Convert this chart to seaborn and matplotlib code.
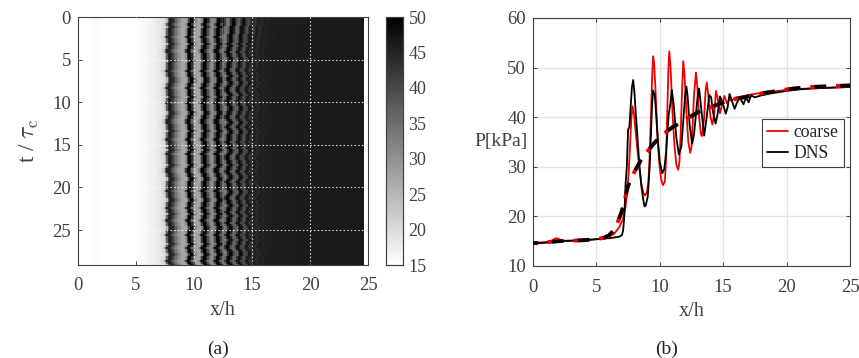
# IMPORT LIBRARIES

import numpy as np
import pandas as pd
import matplotlib
matplotlib.use("Agg")
import matplotlib.pyplot as plt
import seaborn as sns


# DATA

# (a) pressure along x/h in cells of 0.125
p_left = [15.0, 15.0, 15.0, 15.0, 15.0, 15.0, 15.0, 15.0, 15.2, 15.3, 15.4, 15.5, 15.5, 15.4, 15.3, 15.2,
          15.1, 15.0, 15.0, 15.0, 15.0, 15.0, 15.0, 15.0, 15.0, 15.0, 15.0, 15.0, 15.0, 15.0, 15.0, 15.0,
          15.0, 15.0, 15.0, 15.0, 15.0, 15.0, 15.1, 15.1, 15.2, 15.3, 15.4, 15.5, 15.6, 15.8, 16.0, 16.2,
          16.4, 16.6, 16.8, 17.0, 17.2, 17.5, 17.8, 18.2]
p_mid = [18.5, 19.0, 19.8, 21.5, 25.0, 37.0, 45.0, 46.0,
         44.0, 41.0, 37.0, 34.0, 32.0, 30.0, 28.5, 27.5,
         27.0, 27.5, 31.0, 42.0, 50.0, 49.0, 43.0, 36.0,
         31.0, 28.0, 27.0, 27.5, 32.0, 42.0, 50.0, 49.5,
         45.0, 39.0, 35.0, 31.5, 30.5, 33.0, 40.0, 48.0,
         50.0, 47.0, 41.0, 35.0, 33.0, 36.0, 43.0, 49.0,
         49.0, 45.0, 39.0, 36.0, 37.0, 42.0, 47.0, 48.0,
         45.0, 41.0, 39.0, 42.0, 46.0, 46.5, 44.0, 42.5,
         44.5, 46.0, 45.0, 44.0, 45.0, 46.0, 45.5, 45.0,
         45.5, 46.0, 45.5, 45.7, 46.0, 45.7, 46.0, 45.8]
p_right = [46.0, 45.8, 46.1, 45.9, 46.2, 46.0, 46.1, 45.9, 46.2, 46.0, 46.2, 46.0, 46.2, 46.1, 46.0, 46.3,
           46.1, 46.2, 46.0, 46.2, 46.1, 46.3, 46.1, 46.2, 46.1, 46.3, 46.2, 46.3, 46.1, 46.3, 46.2, 46.3,
           46.2, 46.4, 46.2, 46.3, 46.3, 46.4, 46.2, 46.4, 46.3, 46.4, 46.3, 46.4, 46.3, 46.5, 46.3, 46.4,
           46.4, 46.5, 46.4, 46.5, 46.4, 46.5, 46.5, 46.4, 46.5, 46.5, 46.6, 46.5, 46.6]
p_blank = [np.nan, np.nan, np.nan]

# wobble of the stripes per time row (0.25 tau_c), in cells
shift_near = [1, 1, 1, 0, 1, 0, 0, 0, 0, -1, 0, 0, 1, 0, 0, -1, -1, 0, 0, 0, 1, 0, 0, 0, 0, -1, 0, 0, 1, 1,
              1, 0, 0, -1, 0, 0, 0, 1, 0, 0, -1, 0, 0, 0, 1, 1, 0, 0, -1, -1, 0, 0, 0, 1, 0, 0, 0, -1, 0, 0,
              1, 0, 1, 0, -1, 0, 0, 0, 0, 1, 0, -1, -1, 0, 0, 1, 1, 0, 0, 0, 0, -1, 0, 0, 0, 1, 1, 0, 0, -1,
              0, 0, 1, 0, 0, -1, 0, 0, 1, 1, 0, 0, -1, 0, 0, 0, 1, 0, -1, 0, 0, 1, 0, 0, -1, 0, 1]
shift_far = [3, 3, 3, 3, 2, 2, 2, 2, 1, 1, 1, 1, 0, 1, 0, 0, -1, 0, 0, 1, 1, 0, 0, 0, -1, -1, 0, 1, 0, 0,
             1, 1, 0, -1, -1, 0, 1, 0, 0, -1, 0, 0, 1, 1, 0, 0, -1, -1, 0, 1, 0, -1, 0, 1, 1, 0, 0, 0, -1, 0,
             1, 0, 1, 1, 0, -1, -1, 0, 0, 1, 0, 0, -1, 0, 1, 1, 0, -1, 0, 0, 0, 1, 1, 0, -1, -1, 0, 0, 1, 0,
             0, -1, 0, 1, 0, 0, -1, 0, 1, 1, 0, 0, -1, 0, 1, 0, 0, -1, -1, 0, 1, 1, 0, 0, -1, 0, 1]

# (b) instantaneous profiles
x_coarse = [0, 1, 1.4, 1.6, 1.8, 2.0, 2.3, 3, 4, 5, 5.6, 6, 6.4, 6.8, 7.1, 7.3, 7.45, 7.55, 7.65, 7.75, 7.85, 7.95, 8.1,
            8.25, 8.4, 8.55, 8.7, 8.85, 9.0, 9.1, 9.2, 9.3, 9.4, 9.47, 9.55, 9.65, 9.8, 9.95, 10.1, 10.25, 10.4, 10.5,
            10.6, 10.68, 10.75, 10.85, 11.0, 11.15, 11.3, 11.45, 11.55, 11.65, 11.75, 11.85, 11.95, 12.1, 12.25, 12.4,
            12.5, 12.6, 12.7, 12.85, 12.95, 13.1, 13.25, 13.35, 13.5, 13.6, 13.7, 13.8, 14.0, 14.15, 14.3, 14.43, 14.55,
            14.75, 14.95, 15.1, 15.3, 15.5, 15.7, 16.0, 16.5, 17, 18, 19, 20, 21, 22, 23, 24, 25]
y_coarse = [14.7, 14.8, 15.0, 15.3, 15.6, 15.5, 15.1, 15.1, 15.2, 15.4, 15.6, 15.9, 16.5, 17.8, 19.5, 22.0, 25.5, 29.0,
            34.0, 39.5, 42.2, 41.0, 37.0, 33.0, 29.5, 26.5, 24.7, 24.2, 25.0, 27.0, 32.0, 40.0, 48.5, 52.3, 51.0, 46.0,
            37.5, 31.0, 27.5, 26.3, 27.0, 32.0, 42.0, 50.0, 53.3, 50.0, 41.0, 34.5, 30.5, 29.4, 31.0, 37.0, 45.0, 51.3,
            48.5, 41.0, 35.0, 32.8, 34.0, 39.0, 44.5, 49.0, 46.5, 40.0, 36.5, 36.2, 40.0, 45.0, 47.0, 45.0, 40.0, 38.5,
            41.0, 45.3, 44.0, 40.8, 43.0, 44.3, 42.8, 43.5, 43.4, 44.0, 44.2, 44.5, 44.9, 45.2, 45.5, 45.7, 45.8, 45.9,
            46.0, 46.1]
x_dns = [0, 1, 2, 3, 4, 5, 6, 6.8, 7.0, 7.1, 7.2, 7.3, 7.4, 7.5, 7.6, 7.7, 7.8, 7.9, 8.0, 8.1, 8.25, 8.4, 8.55, 8.7,
         8.8, 8.9, 9.05, 9.2, 9.3, 9.4, 9.47, 9.6, 9.7, 9.85, 10.0, 10.2, 10.35, 10.5, 10.7, 10.85, 10.95, 11.1, 11.3,
         11.5, 11.7, 11.9, 12.0, 12.1, 12.2, 12.35, 12.55, 12.7, 12.9, 13.0, 13.1, 13.3, 13.5, 13.7, 13.9, 14.05,
         14.2, 14.4, 14.55, 14.75, 15.0, 15.2, 15.35, 15.5, 15.9, 16.1, 16.3, 16.6, 16.8, 17, 17.2, 17.5, 18, 19, 20,
         21, 22, 23, 24, 25]
y_dns = [14.5, 14.7, 15.0, 15.1, 15.2, 15.4, 15.6, 15.9, 16.2, 17.0, 20.0, 26.5, 30.0, 37.5, 38.0, 42.0, 46.0, 47.5, 45.0,
         41.0, 35.5, 30.0, 26.0, 23.3, 22.0, 22.3, 24.0, 30.0, 36.5, 43.0, 45.4, 44.5, 41.0, 35.0, 31.0, 28.7, 29.5,
         33.0, 40.5, 43.0, 45.5, 42.5, 36.0, 32.5, 34.0, 41.0, 44.5, 46.2, 44.0, 38.5, 34.7, 36.5, 42.0, 44.5, 45.8,
         41.0, 36.3, 40.0, 44.5, 44.0, 41.0, 38.7, 40.5, 44.2, 42.5, 40.7, 42.0, 44.7, 41.7, 43.0, 44.0, 42.6, 44.0,
         43.0, 44.4, 44.0, 44.4, 44.9, 45.3, 45.6, 45.8, 45.9, 46.0, 46.1]

# time averaged profiles (thick dashes)
x_mean = [0, 2, 4, 5, 5.6, 6, 6.5, 7, 7.5, 8, 8.5, 9, 9.5, 10, 10.5, 11, 11.5, 12, 13, 14, 15, 16, 17, 18, 19, 20, 21,
          22, 23, 24, 25]
y_mean = [14.6, 15.0, 15.2, 15.4, 15.7, 16.2, 17.6, 21.0, 26.2, 29.0, 31.3, 33.0, 34.6, 36.0, 37.0, 38.0, 38.7, 39.5,
          41.0, 42.0, 43.0, 43.7, 44.2, 44.8, 45.2, 45.6, 45.9, 46.1, 46.2, 46.3, 46.4]

x_ticks_a = [0, 5, 10, 15, 20, 25]
t_ticks = [0, 5, 10, 15, 20, 25]
cbar_ticks = [15, 20, 25, 30, 35, 40, 45, 50]
x_ticks_b = [0, 5, 10, 15, 20, 25]
p_ticks = [10, 20, 30, 40, 50, 60]


# BUILD THE x-t TABLE

rows = []
n_mid = len(p_mid)
for s_near, s_far in zip(shift_near, shift_far):
    near = np.take(p_mid, np.arange(44) - s_near, mode="clip")
    far = np.take(p_mid, np.arange(44, n_mid) - s_far, mode="clip")
    rows.append(np.concatenate([p_left, near, far, p_right, p_blank]))
field = pd.DataFrame(np.array(rows))


# STYLE

sns.set_theme(style="ticks")
plt.rcParams["font.family"] = ["Liberation Serif", "DejaVu Serif"]
plt.rcParams["mathtext.fontset"] = "cm"
plt.rcParams["lines.scale_dashes"] = False
dark = "#404040"

W, H = 859, 358
fig = plt.figure(figsize=(W / 100, H / 100), dpi=100)
ax_a = fig.add_axes([78 / W, 1 - 265 / H, 290 / W, 248 / H])
cax = fig.add_axes([386 / W, 1 - 265 / H, 17 / W, 248 / H])
ax_b = fig.add_axes([533 / W, 1 - 266 / H, 317 / W, 248 / H])


# (a) HEATMAP

sns.heatmap(field, ax=ax_a, cbar_ax=cax, cmap="gray_r", vmin=15, vmax=50,
            xticklabels=False, yticklabels=False, rasterized=True)
ax_a.set_xlim(0, 200)
ax_a.set_ylim(116.4, 0)
ax_a.set_xticks([v / 0.125 for v in x_ticks_a])
ax_a.set_xticklabels(x_ticks_a, rotation=0)
ax_a.set_yticks([v / 0.25 for v in t_ticks])
ax_a.set_yticklabels(t_ticks, rotation=0)
ax_a.grid(True, color="white", linestyle=":", linewidth=0.8, alpha=0.9)
ax_a.set_axisbelow(False)
ax_a.xaxis.get_gridlines()[0].set_visible(False)
ax_a.yaxis.get_gridlines()[0].set_visible(False)
ax_a.tick_params(direction="in", length=3, width=0.7, colors=dark, labelsize=13.5, pad=5)
ax_a.tick_params(axis="x", pad=9)
for sp in ax_a.spines.values():
    sp.set_visible(True)
    sp.set_color(dark)
    sp.set_linewidth(0.8)
ax_a.set_xlabel("x/h", fontsize=14.5, color=dark, labelpad=5)
ax_a.set_ylabel(r"t / $\tau_{\mathrm{c}}$", fontsize=17, color=dark, labelpad=8)

cax.set_yticks(cbar_ticks)
cax.set_yticklabels(cbar_ticks)
cax.tick_params(direction="in", length=2.5, width=0.7, colors=dark, labelsize=13, pad=4)
for sp in cax.spines.values():
    sp.set_visible(True)
    sp.set_color(dark)
    sp.set_linewidth(0.8)


# (b) PROFILES

sns.lineplot(x=x_coarse, y=y_coarse, ax=ax_b, color="#f00000", linewidth=1.3, sort=False,
             errorbar=None, label="coarse")
sns.lineplot(x=x_dns, y=y_dns, ax=ax_b, color="black", linewidth=1.3, sort=False,
             errorbar=None, label="DNS")
ax_b.plot(x_mean, y_mean, color="#f00000", linewidth=2.8, linestyle=(8.0, (11, 7.6)), dash_capstyle="butt", zorder=3)
ax_b.plot(x_mean, y_mean, color="black", linewidth=2.6, linestyle=(5, (8.6, 10)), dash_capstyle="butt", zorder=4)

ax_b.set_xlim(0, 25)
ax_b.set_ylim(10, 60)
ax_b.set_xticks(x_ticks_b)
ax_b.set_yticks(p_ticks)
ax_b.grid(True, color="#e2e2e2", linewidth=1.0)
ax_b.set_axisbelow(True)
ax_b.tick_params(direction="in", length=3, width=0.7, colors=dark, labelsize=13.5, pad=5,
                 top=True, right=True)
ax_b.tick_params(axis="x", pad=9)
for sp in ax_b.spines.values():
    sp.set_visible(True)
    sp.set_color(dark)
    sp.set_linewidth(0.8)
ax_b.set_xlabel("x/h", fontsize=14.5, color=dark, labelpad=5)
ax_b.set_ylabel("P[kPa]", fontsize=14, color=dark, rotation=0, ha="right", va="center")
ax_b.yaxis.set_label_coords(-0.018, 0.503)

leg = ax_b.legend(loc="upper left", bbox_to_anchor=(229 / 317, (266 - 119) / 248), borderaxespad=0,
                  fontsize=12.7, frameon=True, fancybox=False, framealpha=1, edgecolor=dark,
                  handlelength=1.2, handletextpad=0.3, borderpad=0.3, labelspacing=0.2)
leg.get_frame().set_linewidth(0.8)
for t in leg.get_texts():
    t.set_color("#222222")


# PANEL LETTERS

fig.text(218 / W, 1 - 349 / H, "(a)", fontsize=14, color="#222222", ha="center", va="center")
fig.text(667 / W, 1 - 349 / H, "(b)", fontsize=14, color="#222222", ha="center", va="center")

fig.savefig("out.png", dpi=100)
